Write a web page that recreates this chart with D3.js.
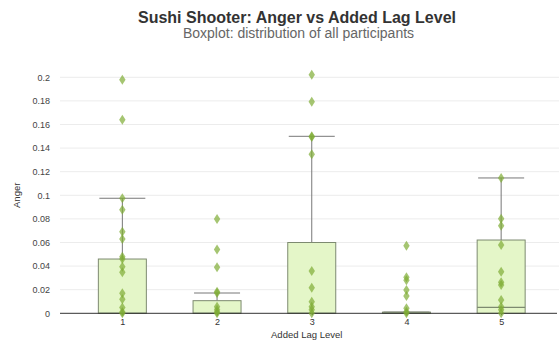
<!DOCTYPE html>
<html>
<head>
<meta charset="utf-8">
<script src="https://cdn.jsdelivr.net/npm/d3@7"></script>
<style>
  body { margin: 0; background: #fff; }
  svg { display: block; font-family: "Liberation Sans", Arial, sans-serif; }
</style>
</head>
<body>
<svg id="chart" width="559" height="343"></svg>
<script>
// Lag levels shown on the x axis
const lagLevels = ["1", "2", "3", "4", "5"];

// Box statistics per lag level: q1, median, q3, upper whisker
const q1Values = [0, 0, 0, 0, 0];
const medianValues = [0, 0, 0, 0, 0.005];
const q3Values = [0.046, 0.0107, 0.060, 0.001, 0.0621];
const whiskerHigh = [0.0975, 0.0172, 0.150, 0.001, 0.1147];

// Individual participant anger scores per lag level
const anger1 = [0.198, 0.164, 0.0975, 0.0878, 0.0692, 0.063, 0.048, 0.046, 0.0395, 0.0347, 0.017, 0.0119, 0.005, 0.001, 0];
const anger2 = [0.080, 0.054, 0.039, 0.0183, 0.0172, 0.0056, 0.003, 0.001, 0];
const anger3 = [0.2022, 0.1793, 0.150, 0.1495, 0.1347, 0.0358, 0.0217, 0.0098, 0.0056, 0.003, 0];
const anger4 = [0.0573, 0.0305, 0.028, 0.0197, 0.0147, 0.0042, 0.0014, 0];
const anger5 = [0.1147, 0.0802, 0.0743, 0.0579, 0.0353, 0.0263, 0.024, 0.0113, 0.0056, 0.003, 0];
const angerByLevel = [anger1, anger2, anger3, anger4, anger5];

// Y axis tick values
const yTicks = [0, 0.02, 0.04, 0.06, 0.08, 0.1, 0.12, 0.14, 0.16, 0.18, 0.2];

const svg = d3.select("#chart");
const width = 559;
const plotLeft = 60, plotRight = 557;

const x = d3.scalePoint()
  .domain(lagLevels)
  .range([75, 548.5])
  .padding(0.5);

const y = d3.scaleLinear()
  .domain([0, 0.2])
  .range([313.3, 77.3]);

// Title and subtitle
svg.append("text")
  .attr("x", 297).attr("y", 23)
  .attr("text-anchor", "middle")
  .attr("font-size", 16).attr("font-weight", "bold")
  .attr("fill", "#333")
  .text("Sushi Shooter: Anger vs Added Lag Level");
svg.append("text")
  .attr("x", 298.5).attr("y", 38)
  .attr("text-anchor", "middle")
  .attr("font-size", 14)
  .attr("fill", "#666")
  .text("Boxplot: distribution of all participants");

// Horizontal gridlines
svg.append("g")
  .selectAll("line")
  .data(yTicks.filter(d => d > 0))
  .join("line")
  .attr("x1", plotLeft).attr("x2", width)
  .attr("y1", d => y(d)).attr("y2", d => y(d))
  .attr("stroke", "#ececec").attr("stroke-width", 1);

// Y axis (labels only)
const yAxis = svg.append("g")
  .attr("transform", `translate(${plotLeft},0)`)
  .call(d3.axisLeft(y).tickValues(yTicks).tickSize(0).tickPadding(10)
    .tickFormat(d => d3.format("~g")(d)));
yAxis.select(".domain").remove();
yAxis.selectAll("text").attr("font-size", 9).attr("fill", "#444")
  .attr("font-family", "Liberation Sans, Arial, sans-serif");

svg.append("text")
  .attr("transform", `translate(20,${y(0.1)}) rotate(-90)`)
  .attr("text-anchor", "middle")
  .attr("font-size", 9.5).attr("fill", "#333")
  .text("Anger");

// Boxes with upper whiskers and medians
const boxHalf = 24;
const boxes = svg.append("g");
lagLevels.forEach((lvl, i) => {
  const cx = x(lvl);
  const g = boxes.append("g");
  g.append("line")
    .attr("x1", cx).attr("x2", cx)
    .attr("y1", y(q3Values[i])).attr("y2", y(whiskerHigh[i]))
    .attr("stroke", "#777").attr("stroke-width", 1);
  g.append("line")
    .attr("x1", cx - boxHalf + 1).attr("x2", cx + boxHalf - 1)
    .attr("y1", y(whiskerHigh[i])).attr("y2", y(whiskerHigh[i]))
    .attr("stroke", "#777").attr("stroke-width", 1);
  g.append("rect")
    .attr("x", cx - boxHalf)
    .attr("y", y(q3Values[i]))
    .attr("width", boxHalf * 2)
    .attr("height", Math.max(0.5, y(q1Values[i]) - y(q3Values[i])))
    .attr("fill", "#e4f6c8")
    .attr("stroke", "#7d8a70").attr("stroke-width", 1);
  g.append("line")
    .attr("x1", cx - boxHalf).attr("x2", cx + boxHalf)
    .attr("y1", y(medianValues[i])).attr("y2", y(medianValues[i]))
    .attr("stroke", "#7d8a70").attr("stroke-width", 1.2);
});

// X axis
const xAxis = svg.append("g")
  .attr("transform", `translate(0,${y(0)})`)
  .call(d3.axisBottom(x).tickSize(2).tickPadding(3));
xAxis.select(".domain").remove();
xAxis.selectAll(".tick line").attr("stroke", "#333");
xAxis.selectAll("text").attr("font-size", 9).attr("fill", "#333")
  .attr("font-family", "Liberation Sans, Arial, sans-serif");
svg.append("line")
  .attr("x1", plotLeft).attr("x2", plotRight)
  .attr("y1", y(0)).attr("y2", y(0))
  .attr("stroke", "#333").attr("stroke-width", 1);

svg.append("text")
  .attr("x", 306.7).attr("y", 338)
  .attr("text-anchor", "middle")
  .attr("font-size", 9.5).attr("fill", "#333")
  .text("Added Lag Level");

// Participant points as diamonds
const diamond = "M0,-5 L3.2,0 L0,5 L-3.2,0 Z";
const pts = svg.append("g");
lagLevels.forEach((lvl, i) => {
  pts.selectAll(null)
    .data(angerByLevel[i])
    .join("path")
    .attr("d", diamond)
    .attr("transform", d => `translate(${x(lvl)},${y(d)})`)
    .attr("fill", "#7fad35")
    .attr("fill-opacity", 0.7);
});
</script>
</body>
</html>
